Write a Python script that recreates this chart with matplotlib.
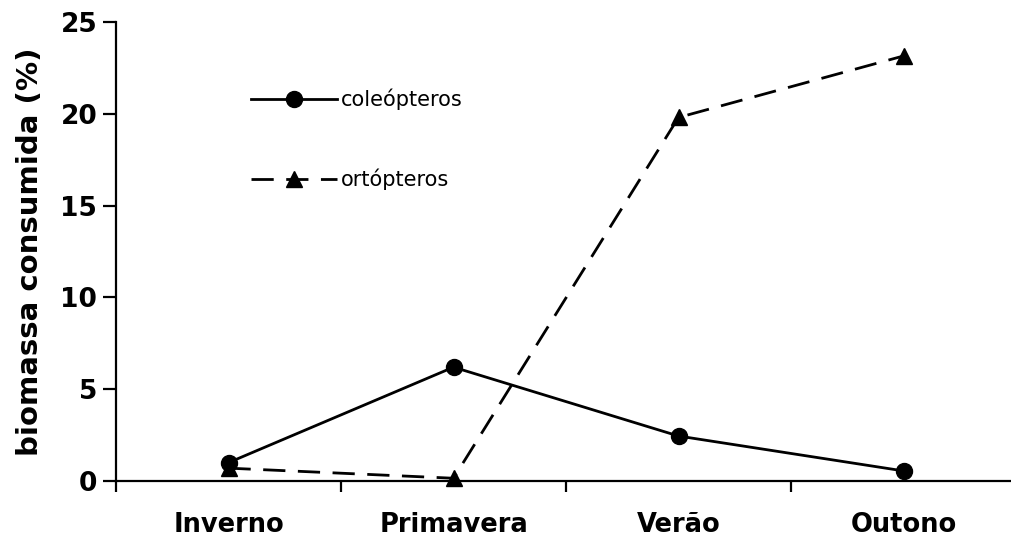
import matplotlib
matplotlib.use("Agg")
import matplotlib.pyplot as plt

categories = ["Inverno", "Primavera", "Verão", "Outono"]
coleopteros = [1.0, 6.2, 2.45, 0.55]
ortopteros = [0.7, 0.15, 19.8, 23.15]
yticks = [0, 5, 10, 15, 20, 25]

plt.rcParams['font.family'] = ['DejaVu Sans']
fig = plt.figure(figsize=(10.12, 5.42), dpi=100)
ax = fig.add_axes([116/1012, 1-481/542, 896/1012, (481-22)/542])

x = list(range(1, len(categories)+1))
ax.plot(x, coleopteros, color='black', lw=2.0, marker='o', ms=11.5, label='coleópteros')
ax.plot(x, ortopteros, color='black', lw=2.0, ls=(0, (8, 4.5)), marker='^', ms=11, label='ortópteros')

ax.set_xlim(0.5, 0.5 + 896/225)
ax.set_ylim(0, 25)
ax.set_xticks([i + 0.5 for i in range(0, len(categories))])
ax.set_xticklabels([])
ax.set_xticks(x, minor=True)
ax.set_xticklabels(categories, minor=True, fontsize=18.5, fontweight='bold')
ax.tick_params(axis='x', which='minor', length=0, pad=22.5)
ax.tick_params(axis='x', which='major', length=8, width=1.6, direction='out')
ax.set_yticks(yticks)
ax.set_yticklabels([str(v) for v in yticks], fontsize=19, fontweight='bold')
ax.tick_params(axis='y', length=9.5, width=1.6, direction='out', pad=4)
ax.spines['top'].set_visible(False)
ax.spines['right'].set_visible(False)
ax.spines['left'].set_linewidth(1.6)
ax.spines['bottom'].set_linewidth(1.6)
ax.spines['bottom'].set_clip_on(False)
for l in ax.lines:
    l.set_clip_on(False)

ax.set_ylabel('biomassa consumida (%)', fontsize=21, fontweight='bold', labelpad=12)

leg = ax.legend(loc='upper left', bbox_to_anchor=(0.13, 0.895), frameon=False,
                fontsize=15, handlelength=4.1, handletextpad=0.2, labelspacing=2.8,
                markerscale=1.0)

fig.savefig('out.png', dpi=100)
